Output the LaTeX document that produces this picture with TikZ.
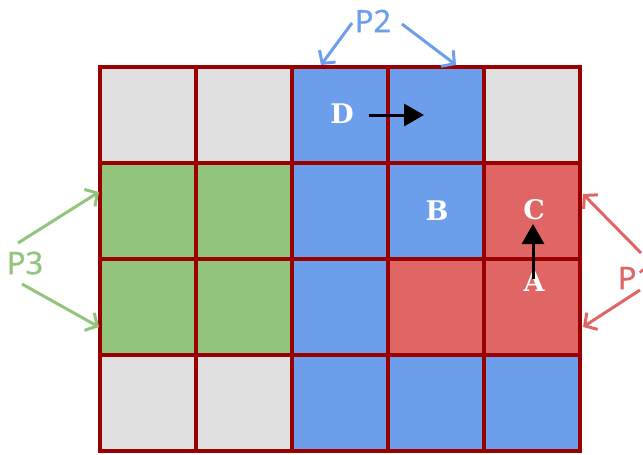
\documentclass[tikz,border=0pt]{standalone}
\usepackage{fontspec}
\setmainfont{DejaVu Serif}
\newfontfamily\psans[FakeBold=1.2]{Open Sans}
\usetikzlibrary{arrows.meta}
\definecolor{gridred}{HTML}{990000}
\definecolor{cgray}{HTML}{E0E0E0}
\definecolor{cgreen}{HTML}{93C47D}
\definecolor{cblue}{HTML}{6D9EEB}
\definecolor{cred}{HTML}{E06666}
\tikzset{
  cell/.style={draw=gridred, line width=3.4pt, minimum size=96pt, inner sep=0pt, outer sep=0pt,
    font=\bfseries\fontsize{27}{27}\selectfont, text=white},
  plabel/.style={font=\psans\fontsize{31}{31}\selectfont, inner sep=0pt},
  parrow/.style={line width=3pt, -{Straight Barb[length=9pt,width=20pt,line width=3pt]}},
  moveto/.style={line width=3pt, -{Triangle[length=20pt,width=22pt]}, black},
}
\begin{document}
\begin{tikzpicture}[x=1pt,y=-1pt]
\useasboundingbox (0,0) rectangle (643,455);
% row 0
\node[cell, fill=cgray]  (c00) at (148,115) {};
\node[cell, fill=cgray]  (c01) at (244,115) {};
\node[cell, fill=cblue]  (c02) at (340,115) {};
\node[cell, fill=cblue]  (c03) at (436,115) {};
\node[cell, fill=cgray]  (c04) at (532,115) {};
% row 1
\node[cell, fill=cgreen] (c10) at (148,211) {};
\node[cell, fill=cgreen] (c11) at (244,211) {};
\node[cell, fill=cblue]  (c12) at (340,211) {};
\node[cell, fill=cblue]  (c13) at (436,211) {};
\node[cell, fill=cred]   (c14) at (532,211) {};
% row 2
\node[cell, fill=cgreen] (c20) at (148,307) {};
\node[cell, fill=cgreen] (c21) at (244,307) {};
\node[cell, fill=cblue]  (c22) at (340,307) {};
\node[cell, fill=cred]   (c23) at (436,307) {};
\node[cell, fill=cred]   (c24) at (532,307) {};
% row 3
\node[cell, fill=cgray]  (c30) at (148,403) {};
\node[cell, fill=cgray]  (c31) at (244,403) {};
\node[cell, fill=cblue]  (c32) at (340,403) {};
\node[cell, fill=cblue]  (c33) at (436,403) {};
\node[cell, fill=cblue]  (c34) at (532,403) {};
% letters
\node[cell, draw=none] (lD) at (342,114) {D};
\node[cell, draw=none] (lB) at (437,211) {B};
\node[cell, draw=none] (lC) at (534,210) {C};
\node[cell, draw=none] (lA) at (534,282) {A};
% move arrows
\coordinate (dS) at (369,115);
\coordinate (dE) at (424,115);
\draw[moveto] (dS) -- (dE);
\coordinate (aS) at (533,279);
\coordinate (aE) at (533,224);
\draw[moveto] (aS) -- (aE);
% P labels
\node[plabel, text=cblue]  (p2) at (373,21) {P2};
\node[plabel, text=cgreen] (p3) at (25,263) {P3};
\node[plabel, text=cred]   (p1) at (636,278) {P1};
% P2 arrows
\coordinate (p2a) at (352,23);
\coordinate (p2at) at (321,65);
\coordinate (p2b) at (402,24);
\coordinate (p2bt) at (456,65);
\draw[parrow, cblue] (p2a) -- (p2at);
\draw[parrow, cblue] (p2b) -- (p2bt);
% P3 arrows
\coordinate (p3a) at (18,243);
\coordinate (p3at) at (99,192);
\coordinate (p3b) at (22,284);
\coordinate (p3bt) at (99,327);
\draw[parrow, cgreen] (p3a) -- (p3at);
\draw[parrow, cgreen] (p3b) -- (p3bt);
% P1 arrows
\coordinate (p1a) at (641,253);
\coordinate (p1at) at (583,194);
\coordinate (p1b) at (640,290);
\coordinate (p1bt) at (583,327);
\draw[parrow, cred] (p1a) -- (p1at);
\draw[parrow, cred] (p1b) -- (p1bt);
\end{tikzpicture}
\end{document}
